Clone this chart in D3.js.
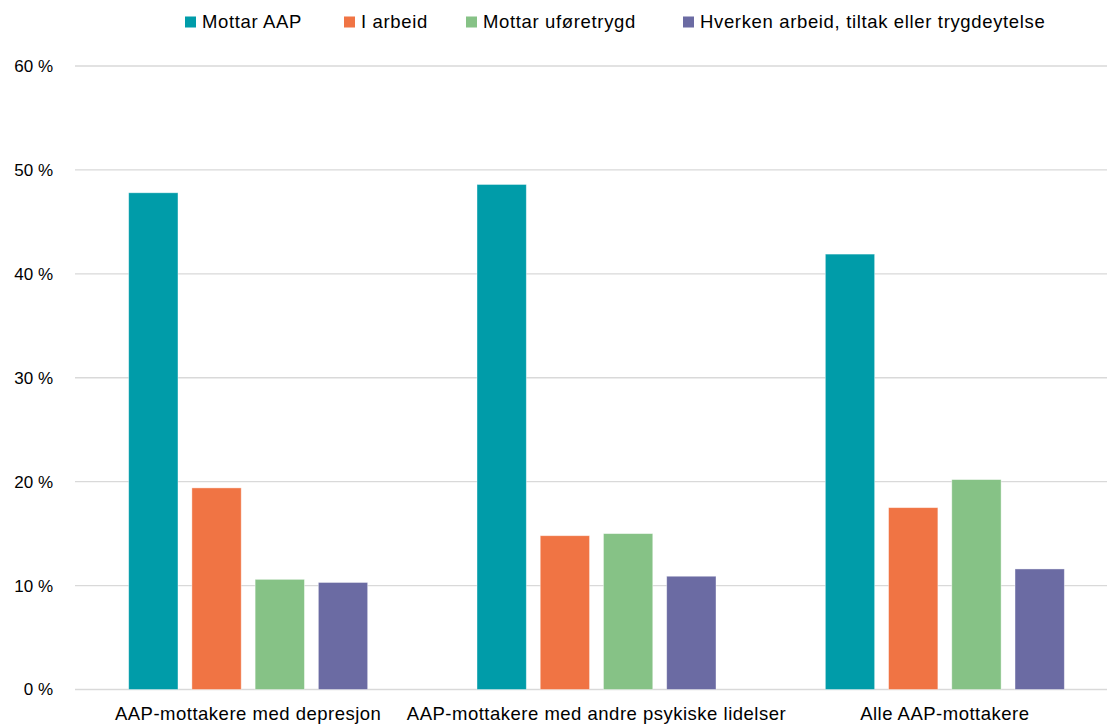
<!DOCTYPE html>
<html>
<head>
<meta charset="utf-8">
<script src="https://cdn.jsdelivr.net/npm/d3@7"></script>
<style>
  body { margin: 0; background: #fff; }
  svg { display: block; }
  text { font-family: "Liberation Sans", Arial, sans-serif; fill: #000; }
</style>
</head>
<body>
<svg id="chart" width="1107" height="726"></svg>
<script>
const categories = ["AAP-mottakere med depresjon", "AAP-mottakere med andre psykiske lidelser", "Alle AAP-mottakere"];
const seriesNames = ["Mottar AAP", "I arbeid", "Mottar uføretrygd", "Hverken arbeid, tiltak eller trygdeytelse"];
const mottarAAP = [47.8, 48.6, 41.9];
const iArbeid = [19.4, 14.8, 17.5];
const mottarUfore = [10.6, 15.0, 20.2];
const hverken = [10.3, 10.9, 11.6];
const yTicks = [0, 10, 20, 30, 40, 50, 60];
const colors = ["#009ca9", "#f07444", "#86c286", "#6b6ba3"];

const seriesValues = [mottarAAP, iArbeid, mottarUfore, hverken];

const svg = d3.select("#chart");
const x0 = d3.scaleBand().domain(categories).range([74, 1119]).paddingInner(0).paddingOuter(0);
const half = 119.5;
const x1 = d3.scaleBand().domain(seriesNames)
  .range([x0.bandwidth() / 2 - half, x0.bandwidth() / 2 + half]).paddingInner(0.22).paddingOuter(0);
const y = d3.scaleLinear().domain([0, 60]).range([689.5, 66]);

// gridlines
svg.append("g").selectAll("line").data(yTicks).join("line")
  .attr("x1", 75).attr("x2", 1107)
  .attr("y1", d => y(d)).attr("y2", d => y(d))
  .attr("stroke", "#d9d9d9").attr("stroke-width", 1.3);

// y labels
svg.append("g").selectAll("text").data(yTicks).join("text")
  .attr("x", 53).attr("y", d => y(d)).attr("dy", "0.35em")
  .attr("text-anchor", "end").attr("font-size", 17)
  .text(d => d + " %");

// bars
const groups = svg.append("g").selectAll("g").data(categories).join("g")
  .attr("transform", d => `translate(${x0(d)},0)`);
groups.selectAll("rect").data((c, ci) => seriesNames.map((s, si) => ({s, si, v: seriesValues[si][ci]})))
  .join("rect")
  .attr("x", d => x1(d.s))
  .attr("width", x1.bandwidth())
  .attr("y", d => y(d.v))
  .attr("height", d => y(0) - y(d.v))
  .attr("fill", d => colors[d.si])
  .attr("stroke", "#ffffff").attr("stroke-opacity", 0.5).attr("stroke-width", 0.8);

// category labels
svg.append("g").selectAll("text").data(categories).join("text")
  .attr("x", d => x0(d) + x0.bandwidth() / 2)
  .attr("y", 720)
  .attr("text-anchor", "middle").attr("font-size", 18.5)
  .attr("letter-spacing", 0.5)
  .text(d => d);

// legend
const legendX = [185, 344, 466, 683];
const leg = svg.append("g").selectAll("g").data(seriesNames).join("g")
  .attr("transform", (d, i) => `translate(${legendX[i]},22)`);
leg.append("rect").attr("x", 0).attr("y", -5.5).attr("width", 11).attr("height", 11)
  .attr("fill", (d, i) => colors[i]);
leg.append("text").attr("x", 17).attr("y", 0).attr("dy", "0.35em")
  .attr("font-size", 18.5).attr("letter-spacing", 0.65).text(d => d);
</script>
</body>
</html>
